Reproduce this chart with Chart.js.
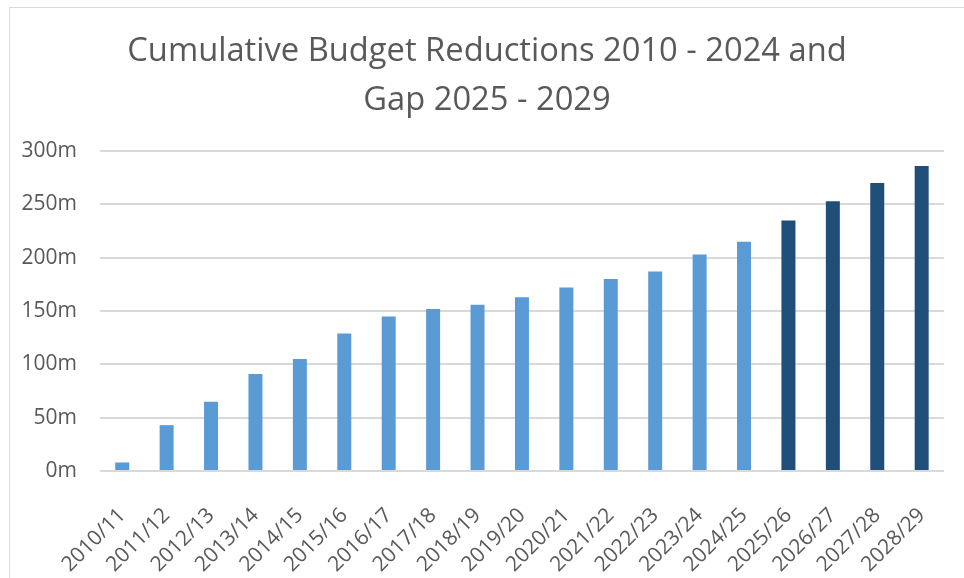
<!DOCTYPE html>
<html>
<head>
<meta charset="utf-8">
<script src="https://cdn.jsdelivr.net/npm/chart.js@4/dist/chart.umd.min.js"></script>
<style>
  body { margin: 0; background: #fff; overflow: hidden; }
  #wrap { position: relative; width: 964px; height: 578px; }
  #frame {
    position: absolute; left: 9px; top: 7px; width: 1000px; height: 1000px;
    border-left: 1px solid #d9d9d9; border-top: 1px solid #d9d9d9;
    pointer-events: none;
  }
  canvas { position: absolute; left: 0; top: 0; }
</style>
</head>
<body>
<div id="wrap">
  <div id="frame"></div>
  <canvas id="myChart" width="964" height="578"></canvas>
</div>
<script>
// financial years
const years = [
  "2010/11", "2011/12", "2012/13", "2013/14", "2014/15", "2015/16", "2016/17",
  "2017/18", "2018/19", "2019/20", "2020/21", "2021/22", "2022/23", "2023/24",
  "2024/25", "2025/26", "2026/27", "2027/28", "2028/29"
];

// cumulative reductions delivered so far (£m)
const reductions = [8, 43, 65, 91, 105, 129, 145, 152, 156, 163, 172, 180, 187, 203, 215];

// projected gap (£m)
const gap = [235, 253, 270, 286];

const yTicks = [0, 50, 100, 150, 200, 250, 300];

const textColor = "#595959";

// pad each series with nulls so both share the one category axis
const reductionsData = years.map((y, i) => i < reductions.length ? reductions[i] : null);
const gapData = years.map((y, i) => i >= reductions.length ? gap[i - reductions.length] : null);

const ctx = document.getElementById('myChart').getContext('2d');

const myBarChart = new Chart(ctx, {
  type: 'bar',
  data: {
    labels: years,
    datasets: [
      { label: "Reductions", data: reductionsData, backgroundColor: "#5b9bd5" },
      { label: "Gap", data: gapData, backgroundColor: "#1f4e79" }
    ]
  },
  options: {
    responsive: false,
    animation: false,
    // title is centred across the framed area, so keep left/right padding small
    layout: { padding: { left: 10, right: 0, top: 0, bottom: 0 } },
    barPercentage: 0.63,
    categoryPercentage: 0.5,
    plugins: {
      legend: { display: false },
      tooltip: { enabled: false },
      title: {
        display: true,
        text: ["Cumulative Budget Reductions 2010 - 2024 and", "Gap 2025 - 2029"],
        color: textColor,
        font: { family: "'Open Sans'", size: 32.7, weight: 'normal', lineHeight: 1.5 },
        padding: { top: 27, bottom: 26 }
      }
    },
    scales: {
      x: {
        stacked: true,
        grid: { display: false },
        border: { display: false },
        ticks: {
          color: textColor,
          font: { family: "'Open Sans'", size: 21 },
          minRotation: 45,
          maxRotation: 45,
          autoSkip: false,
          padding: 24
        },
        afterFit: (scale) => { scale.height = 107; }
      },
      y: {
        stacked: true,
        min: 0,
        max: 300,
        border: { display: false },
        grid: { color: "#d9d9d9", lineWidth: 2, drawTicks: false },
        afterBuildTicks: (scale) => { scale.ticks = yTicks.map(v => ({ value: v })); },
        ticks: {
          color: textColor,
          font: { family: "'Open Sans'", size: 21 },
          padding: 23,
          callback: (v) => v + "m"
        },
        afterFit: (scale) => { scale.width = 90; }
      },
      // empty spacer on the right edge of the plot
      spacer: {
        position: 'right',
        display: true,
        grid: { display: false },
        border: { display: false },
        ticks: { display: false },
        afterFit: (scale) => { scale.width = 19; }
      }
    }
  }
});
</script>
</body>
</html>
